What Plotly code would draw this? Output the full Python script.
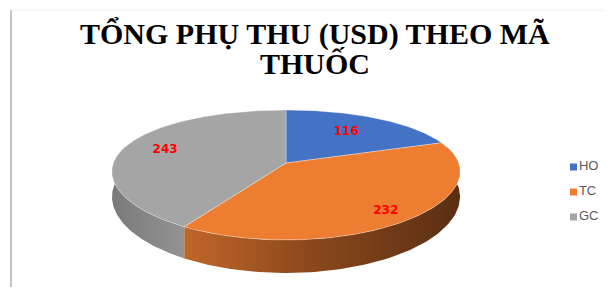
import numpy as np
import plotly.graph_objects as go

# ---- data ----
categories = ["HO", "TC", "GC"]
values = [116, 232, 243]
colors = ["#4472C4", "#ED7D31", "#A5A5A5"]
title_line1 = "TỔNG PHỤ THU (USD) THEO MÃ"
title_line2 = "THUỐC"

# ---- styling / geometry (page pixel space) ----
W, H = 611, 295
OFF = 8                     # browser default body margin
CX, CY = 286.0, 163.0       # projected disk centre
A, B = 172.5, 65.0          # horizontal / vertical semi axes
Q, P = 12.0, 0.134          # simple perspective terms
D0, D1 = 24.0, 9.0          # side depth (back/front)
label_radius = [0.65, 0.85, 0.75]
side_scales = {
    "TC": [[0, "#c06629"], [0.45, "#8b491c"], [1, "#5a2e12"]],
    "GC": [[0, "#7a7a7a"], [1, "#939393"]],
    "HO": [[0, "#2f5597"], [1, "#4472C4"]],
}


def proj(r, th):
    u = r * np.sin(th)
    v = -r * np.cos(th)
    x = CX + A * u * (1 + P * v)
    y = CY + B * v + Q * v * v
    return x, y


total = float(sum(values))
bounds = np.concatenate([[0], np.cumsum(values)]) / total * 2 * np.pi

fig = go.Figure()

# side walls (front half only)
lo, hi = np.radians(75), np.radians(285)
for i, cat in enumerate(categories):
    t1, t2 = max(bounds[i], lo), min(bounds[i + 1], hi)
    if t2 <= t1:
        continue
    th = np.linspace(t1, t2, 120)
    xt, yt = proj(1.0, th)
    v = -np.cos(th)
    depth = D0 + D1 * np.clip(v, 0, 1)
    xs = np.concatenate([xt, xt[::-1]])
    ys = np.concatenate([yt, (yt + depth)[::-1]])
    fig.add_trace(go.Scatter(
        x=xs, y=ys, mode="lines", fill="toself", line=dict(width=0),
        fillgradient=dict(type="horizontal", colorscale=side_scales[cat]),
        hoverinfo="skip", showlegend=False))

# top faces
for i, cat in enumerate(categories):
    th = np.linspace(bounds[i], bounds[i + 1], 200)
    xt, yt = proj(1.0, th)
    xs = np.concatenate([[CX], xt, [CX]])
    ys = np.concatenate([[CY], yt, [CY]])
    fig.add_trace(go.Scatter(
        x=xs, y=ys, mode="lines", fill="toself", fillcolor=colors[i],
        line=dict(width=0.6, color="rgba(255,255,255,0.55)"),
        hoverinfo="text", text=f"{cat}: {values[i]}", showlegend=False))

# data labels
lx, ly = [], []
for i in range(len(values)):
    mid = (bounds[i] + bounds[i + 1]) / 2
    x, y = proj(label_radius[i], mid)
    lx.append(x)
    ly.append(y)
fig.add_trace(go.Scatter(
    x=lx, y=ly, mode="text", text=[str(v) for v in values],
    textfont=dict(family="DejaVu Sans", size=12, color="#FF0000", weight="bold"),
    hoverinfo="skip", showlegend=False))

# legend (manual, Excel-like)
leg_x = 573.5
leg_y = [167, 192, 217]
fig.add_trace(go.Scatter(
    x=[leg_x] * len(categories), y=leg_y, mode="markers+text",
    marker=dict(symbol="square", size=7, color=colors),
    text=categories, textposition="middle right",
    textfont=dict(family="Liberation Sans", size=13, color="#595959"),
    hoverinfo="skip", showlegend=False))

# title
for txt, yy in [(title_line1, 34), (title_line2, 63)]:
    fig.add_annotation(
        x=315, y=yy, xref="x", yref="y", text=f"<b>{txt}</b>", showarrow=False,
        xanchor="center", yanchor="middle",
        font=dict(family="Liberation Serif", size=30, color="#000000"))

# frame lines
fig.add_shape(type="line", x0=11, x1=11, y0=10, y1=290, xref="x", yref="y",
              line=dict(color="#9a9a9a", width=1.2))
fig.add_shape(type="line", x0=11, x1=611, y0=10, y1=10, xref="x", yref="y",
              line=dict(color="#eeeeee", width=1))

fig.update_layout(
    width=W - 2 * OFF, height=H - 2 * OFF, margin=dict(l=0, r=0, t=0, b=0),
    paper_bgcolor="white", plot_bgcolor="white",
    xaxis=dict(range=[OFF, W - OFF], visible=False, fixedrange=True),
    yaxis=dict(range=[H - OFF, OFF], visible=False, fixedrange=True),
    showlegend=False,
)

fig.write_html("out.html")
